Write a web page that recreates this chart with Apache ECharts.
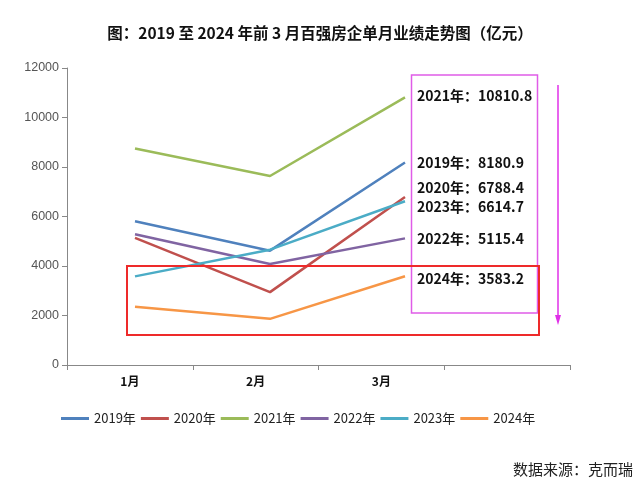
<!DOCTYPE html>
<html><head><meta charset="utf-8">
<script src="https://cdn.jsdelivr.net/npm/echarts@6/dist/echarts.min.js"></script>
<style>html,body{margin:0;padding:0;background:#fff}#c{width:640px;height:500px}</style>
</head><body><div id="c"></div>
<script>
var months = ['1月', '2月', '3月'];
var axisCats = ['1月', '2月', '3月', ''];
var seriesNames = ['2019年', '2020年', '2021年', '2022年', '2023年', '2024年'];
var v2019 = [5810, 4620, 8180.9];
var v2020 = [5135, 2945, 6788.4];
var v2021 = [8745, 7635, 10810.8];
var v2022 = [5285, 4080, 5115.4];
var v2023 = [3580, 4660, 6614.7];
var v2024 = [2350, 1865, 3583.2];
var yTicks = [0, 2000, 4000, 6000, 8000, 10000, 12000];
var colors = ['#4F81BD', '#C0504D', '#9BBB59', '#8064A2', '#4BACC6', '#F79646'];
var labelOffsets = [[0, 0], [0, -9], [0, -2], [0, 0], [0, 5], [0, 2]];
var allValues = [v2019, v2020, v2021, v2022, v2023, v2024];

var chart = echarts.init(document.getElementById('c'));
var series = allValues.map(function (vals, i) {
  return {
    name: seriesNames[i], type: 'line', xAxisIndex: 1, yAxisIndex: 1,
    showSymbol: true, symbol: 'circle', symbolSize: 0.01, clip: false,
    lineStyle: { width: 2.5, color: colors[i] },
    itemStyle: { color: colors[i] },
    data: vals.map(function (v, j) {
      if (j === vals.length - 1) {
        return { value: v, label: { show: true, position: 'right', distance: 12, offset: labelOffsets[i],
          formatter: seriesNames[i] + '：' + v.toFixed(1),
          fontFamily: 'Noto Sans CJK SC', fontWeight: 'bold', fontSize: 14, color: '#111' } };
      }
      return v;
    })
  };
});
chart.setOption({
  animation: false,
  backgroundColor: '#fff',
  title: { text: '图：2019 至 2024 年前 3 月百强房企单月业绩走势图（亿元）', left: 'center', top: 20,
    textStyle: { fontFamily: 'Noto Sans CJK SC', fontWeight: 'bold', fontSize: 15.5, color: '#111' } },
  legend: { bottom: 70, left: 56, itemWidth: 28, itemHeight: 3, itemGap: 5, icon: 'rect',
    textStyle: { fontFamily: 'Noto Sans CJK SC', fontSize: 13, color: '#222' },
    data: seriesNames },
  grid: [
    { left: 67, right: 70, top: 68, bottom: 135 },
    { left: 135, right: 235, top: 68, bottom: 135 }
  ],
  xAxis: [
    { type: 'category', gridIndex: 0, data: axisCats, boundaryGap: true,
      axisLine: { lineStyle: { color: '#888', width: 1 } },
      axisTick: { show: true, length: 5, lineStyle: { color: '#888' } },
      axisLabel: { color: '#111', fontWeight: 'bold', fontSize: 12, margin: 10, fontFamily: 'Noto Sans CJK SC' } },
    { type: 'category', gridIndex: 1, data: months, boundaryGap: false, show: false }
  ],
  yAxis: [
    { type: 'value', gridIndex: 0, min: 0, max: 12000, interval: 2000,
      axisLine: { show: true, lineStyle: { color: '#888' } },
      axisTick: { show: true, length: 5, lineStyle: { color: '#888' } },
      splitLine: { show: false },
      axisLabel: { color: '#555', fontSize: 12.5, margin: 8, fontFamily: 'Liberation Sans',
        formatter: function (v) { return yTicks.indexOf(v) >= 0 ? String(v) : ''; } } },
    { type: 'value', gridIndex: 1, min: 0, max: 12000, show: false }
  ],
  series: series,
  graphic: [
    { type: 'rect', shape: { x: 411.5, y: 75, width: 126, height: 238 }, style: { fill: 'none', stroke: '#e05ce8', lineWidth: 1.5 }, z: 10 },
    { type: 'rect', shape: { x: 127, y: 266, width: 412, height: 69 }, style: { fill: 'none', stroke: '#ee2a2a', lineWidth: 2 }, z: 10 },
    { type: 'line', shape: { x1: 558, y1: 85, x2: 558, y2: 318 }, style: { stroke: '#e030e8', lineWidth: 1.5 }, z: 10 },
    { type: 'polygon', shape: { points: [[555, 315], [561, 315], [558, 325]] }, style: { fill: '#e030e8' }, z: 10 },
    { type: 'text', left: 513, top: 462, style: { text: '数据来源：克而瑞', font: '15px "Noto Sans CJK SC"', fill: '#222' } }
  ]
});
</script></body></html>
